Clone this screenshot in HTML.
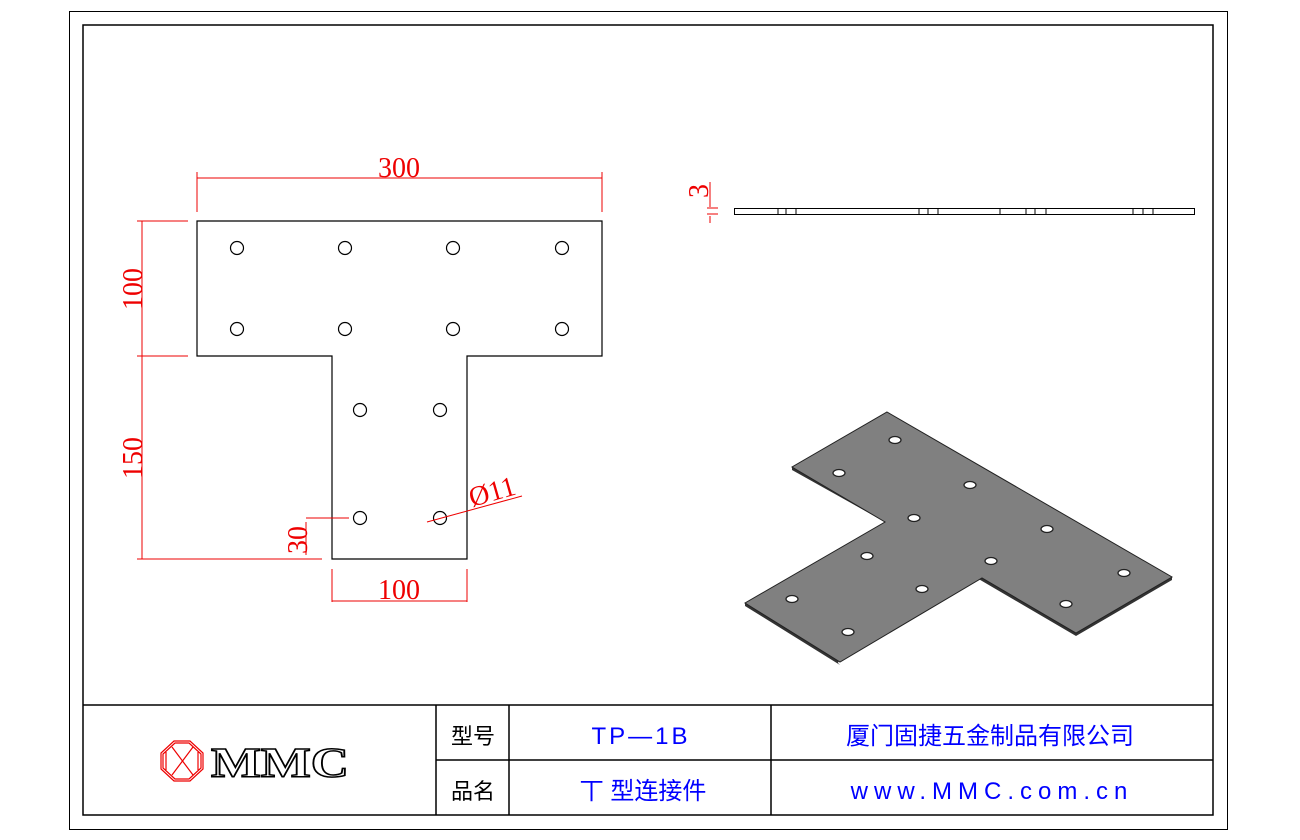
<!DOCTYPE html>
<html><head><meta charset="utf-8"><style>
body{margin:0;background:#fff}
svg{display:block}
text{font-family:"Liberation Serif",serif}
.cj{font-family:"Liberation Sans","Noto Sans CJK SC",sans-serif}
</style></head><body>
<svg width="1300" height="840" viewBox="0 0 1300 840" xmlns="http://www.w3.org/2000/svg">
<rect x="0" y="0" width="1300" height="840" fill="#fff"/>
<rect x="69.5" y="11.5" width="1158" height="818" fill="none" stroke="#000" stroke-width="1"/>
<rect x="83" y="25" width="1130" height="790" fill="none" stroke="#000" stroke-width="1.5"/>
<g stroke="#000" stroke-width="1.5" fill="none">
<line x1="83" y1="705" x2="1213" y2="705"/>
<line x1="436" y1="760" x2="1213" y2="760"/>
<line x1="436" y1="705" x2="436" y2="815"/>
<line x1="509" y1="705" x2="509" y2="815"/>
<line x1="771" y1="705" x2="771" y2="815"/>
</g>
<text x="473" y="744" class="cj" font-size="22" text-anchor="middle" fill="#000">型号</text>
<text x="473" y="799" class="cj" font-size="22" text-anchor="middle" fill="#000">品名</text>
<text x="641" y="744" class="cj" font-size="24" text-anchor="middle" fill="#0000ff" letter-spacing="3">TP—1B</text>
<text x="643" y="799" class="cj" font-size="24" text-anchor="middle" fill="#0000ff">丅 型连接件</text>
<text x="990" y="744" class="cj" font-size="24" text-anchor="middle" fill="#0000ff">厦门固捷五金制品有限公司</text>
<text x="992" y="799" class="cj" font-size="24" text-anchor="middle" fill="#0000ff" letter-spacing="6">www.MMC.com.cn</text>
<g stroke="#e00" fill="none" stroke-width="1.2">
<polygon points="174,741 190,741 203,753 203,769 190,781 174,781 161,769 161,753"/>
<polygon points="175,743 189,743 201,754 201,768 189,779 175,779 163,768 163,754"/>
<line x1="172" y1="747" x2="193" y2="775"/><line x1="193" y1="747" x2="172" y2="775"/>
<line x1="166" y1="752" x2="166" y2="770"/><line x1="198" y1="752" x2="198" y2="770"/>
</g>
<text x="211" y="777" font-size="42" font-weight="bold" fill="#fff" stroke="#000" stroke-width="1.5" textLength="138" lengthAdjust="spacingAndGlyphs">MMC</text>
<g stroke="#000" stroke-width="1.2" fill="none">
<polygon points="197,221 602,221 602,356 467,356 467,559 332,559 332,356 197,356"/>
<circle cx="237" cy="248" r="6.5"/><circle cx="345" cy="248" r="6.5"/><circle cx="453" cy="248" r="6.5"/><circle cx="562" cy="248" r="6.5"/>
<circle cx="237" cy="329" r="6.5"/><circle cx="345" cy="329" r="6.5"/><circle cx="453" cy="329" r="6.5"/><circle cx="562" cy="329" r="6.5"/>
<circle cx="360" cy="410" r="6.5"/><circle cx="440" cy="410" r="6.5"/>
<circle cx="360" cy="518" r="6.5"/><circle cx="440" cy="518" r="6.5"/>
</g>
<g stroke="#e00" stroke-width="1" fill="none">
<line x1="197" y1="178" x2="602" y2="178"/>
<line x1="197" y1="172" x2="197" y2="212"/><line x1="602" y1="172" x2="602" y2="212"/>
<line x1="142" y1="221" x2="142" y2="559"/>
<line x1="137" y1="221" x2="188" y2="221"/>
<line x1="137" y1="356" x2="188" y2="356"/>
<line x1="137" y1="559" x2="322" y2="559"/>
<line x1="306" y1="518" x2="349" y2="518"/>
<line x1="306" y1="522" x2="306" y2="555"/>
<line x1="332" y1="569" x2="332" y2="602"/><line x1="467" y1="569" x2="467" y2="602"/>
<line x1="332" y1="601" x2="467" y2="601"/>
<line x1="427" y1="522" x2="522" y2="496"/>
<line x1="710" y1="182" x2="710" y2="207"/>
<line x1="707" y1="208" x2="718" y2="208"/><line x1="707" y1="214" x2="718" y2="214"/>
<line x1="710" y1="216" x2="710" y2="223"/>
</g>
<g fill="#e00" font-size="28">
<text x="399" y="177" text-anchor="middle">300</text>
<text x="399" y="599" text-anchor="middle">100</text>
<text transform="translate(142,289) rotate(-90)" text-anchor="middle">100</text>
<text transform="translate(142,458) rotate(-90)" text-anchor="middle">150</text>
<text transform="translate(307,540) rotate(-90)" text-anchor="middle">30</text>
<text transform="translate(472,507) rotate(-16)">Ø11</text>
<text transform="translate(708,191) rotate(-90)" text-anchor="middle">3</text>
</g>
<g stroke="#000" stroke-width="1" fill="none">
<rect x="734.5" y="208.5" width="460" height="6"/>
<line x1="778" y1="209" x2="778" y2="214"/><line x1="786" y1="209" x2="786" y2="214"/><line x1="796" y1="209" x2="796" y2="214"/>
<line x1="919" y1="209" x2="919" y2="214"/><line x1="928" y1="209" x2="928" y2="214"/><line x1="938" y1="209" x2="938" y2="214"/>
<line x1="1000" y1="209" x2="1000" y2="214"/><line x1="1026" y1="209" x2="1026" y2="214"/><line x1="1035" y1="209" x2="1035" y2="214"/><line x1="1046" y1="209" x2="1046" y2="214"/>
<line x1="1133" y1="209" x2="1133" y2="214"/><line x1="1143" y1="209" x2="1143" y2="214"/><line x1="1153" y1="209" x2="1153" y2="214"/>
</g>
<polygon points="887,412 1172,577 1172,580 1076,636 982,581 885,525 838,663 840,665 745,606 745,603 885,522 792,470 792,467" fill="#333"/>
<polygon points="887,412 1172,577 1076,633 982,578 840,662 745,603 885,522 792,467" fill="#808080" stroke="#222" stroke-width="1"/>
<g fill="#fff" stroke="#222" stroke-width="1.3">
<ellipse cx="895" cy="440" rx="6" ry="3.5"/><ellipse cx="839" cy="473" rx="6" ry="3.5"/>
<ellipse cx="970" cy="485" rx="6" ry="3.5"/><ellipse cx="914" cy="518" rx="6" ry="3.5"/>
<ellipse cx="1047" cy="529" rx="6" ry="3.5"/><ellipse cx="867" cy="556" rx="6" ry="3.5"/>
<ellipse cx="991" cy="561" rx="6" ry="3.5"/><ellipse cx="1124" cy="573" rx="6" ry="3.5"/>
<ellipse cx="1066" cy="604" rx="6" ry="3.5"/><ellipse cx="792" cy="599" rx="6" ry="3.5"/>
<ellipse cx="848" cy="632" rx="6" ry="3.5"/><ellipse cx="922" cy="589" rx="6" ry="3.5"/>
</g>
</svg>
</body></html>
